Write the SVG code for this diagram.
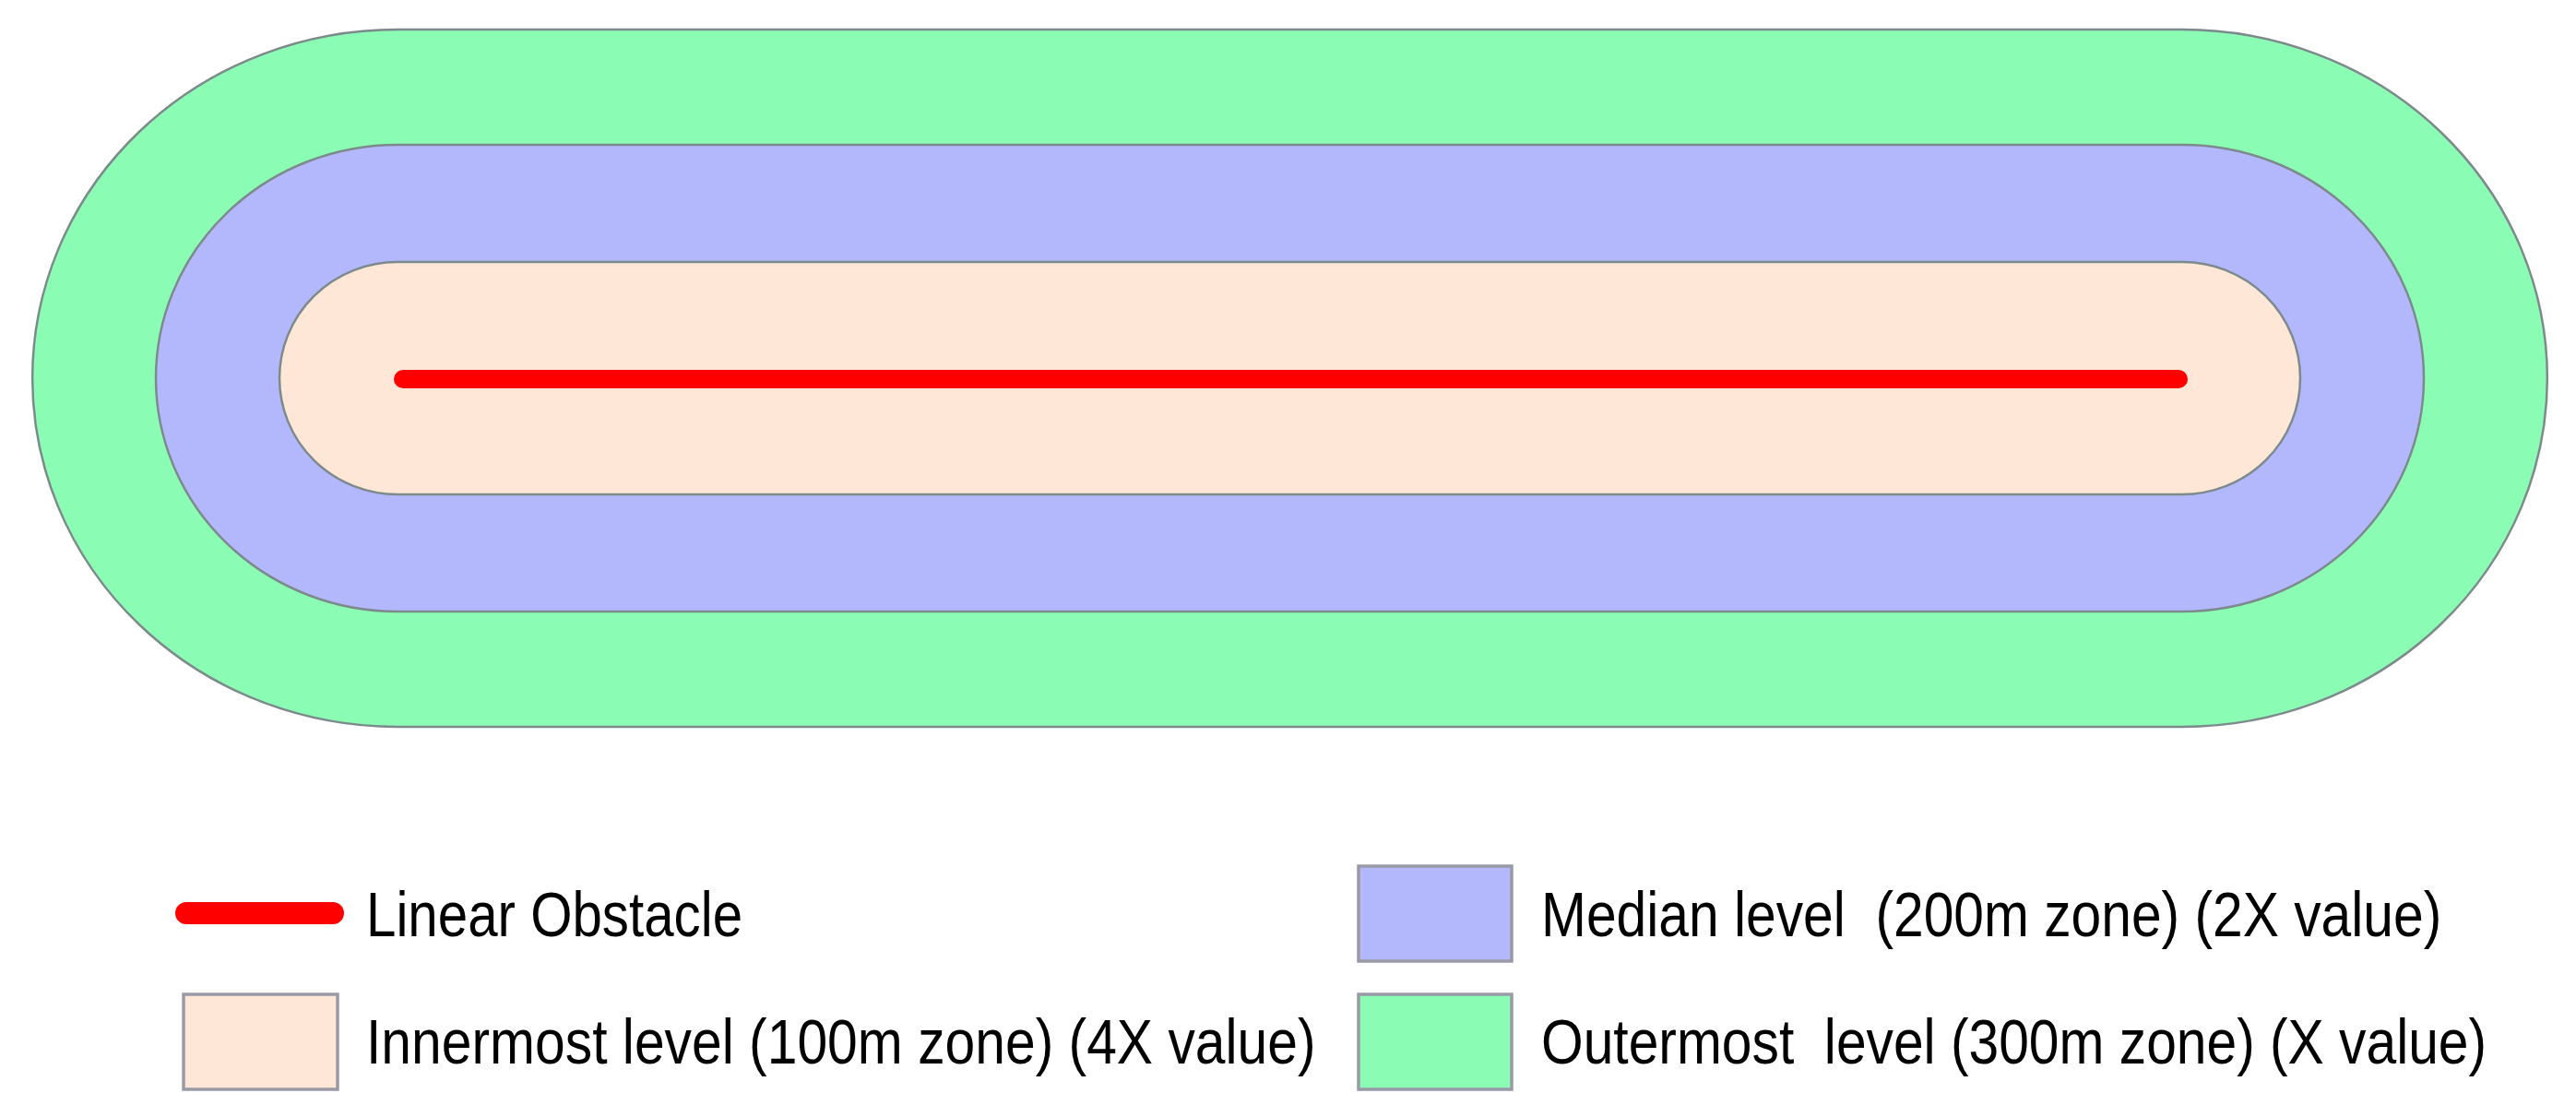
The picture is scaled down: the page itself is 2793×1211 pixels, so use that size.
<svg xmlns="http://www.w3.org/2000/svg" width="2793" height="1211" viewBox="0 0 2793 1211">
<style>
.zone{stroke:#7d8a8c;stroke-width:2.5}
.z3{fill:#8bfcb4}
.z2{fill:#b3b8fc}
.z1{fill:#ffe7d7}
.obst{stroke:#ff0000;stroke-linecap:round;fill:none}
.box{stroke:#9a9aa6;stroke-width:3.5}
.lbl{font-family:"Liberation Sans",Arial,sans-serif;font-size:68px;fill:#000;white-space:pre}
</style>
<rect width="2793" height="1211" fill="#ffffff"/>
<g id="outermost-zone">
<path class="zone z3" d="M431,32 H2366 A396,378 0 0 1 2366,788 H431 A396,378 0 0 1 431,32 Z"/>
</g>
<g id="median-zone">
<path class="zone z2" d="M431,157 H2366 A262,253 0 0 1 2366,663 H431 A262,253 0 0 1 431,157 Z"/>
</g>
<g id="innermost-zone">
<path class="zone z1" d="M431,284 H2366 A128,126 0 0 1 2366,536 H431 A128,126 0 0 1 431,284 Z"/>
</g>
<g id="linear-obstacle">
<line class="obst" x1="437" y1="411" x2="2362" y2="411" stroke-width="20"/>
</g>
<g id="legend">
<g id="legend-obstacle">
<line class="obst" x1="202" y1="990" x2="361" y2="990" stroke-width="24"/>
<text class="lbl" transform="translate(397,1015) scale(0.857,1)">Linear Obstacle</text>
</g>
<g id="legend-innermost">
<rect class="box z1" x="199" y="1078" width="167" height="103"/>
<text class="lbl" transform="translate(397,1153) scale(0.865,1)">Innermost level (100m zone) (4X value)</text>
</g>
<g id="legend-median">
<rect class="box z2" x="1473" y="939" width="166" height="103"/>
<text class="lbl" transform="translate(1671,1015) scale(0.864,1)">Median level  (200m zone) (2X value)</text>
</g>
<g id="legend-outermost">
<rect class="box z3" x="1473" y="1078" width="166" height="103"/>
<text class="lbl" transform="translate(1671,1153) scale(0.864,1)">Outermost  level (300m zone) (X value)</text>
</g>
</g>
</svg>
